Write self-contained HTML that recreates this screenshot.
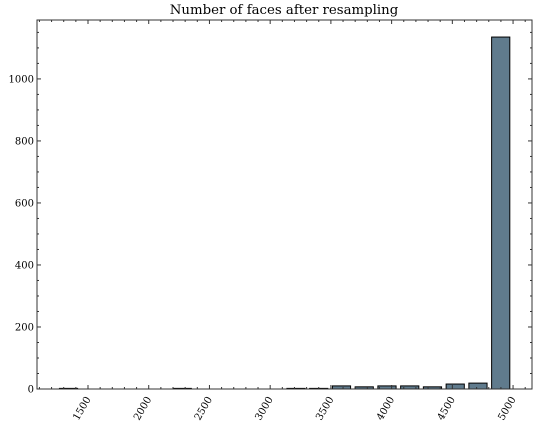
<!DOCTYPE html>
<html><head><meta charset="utf-8"><style>
body{margin:0;background:#fff}
svg{display:block;font-family:"DejaVu Serif","Liberation Serif",serif}
</style></head><body>
<svg id="chart" width="536" height="427">
<text x="284" y="14" text-anchor="middle" font-size="13.3">Number of faces after resampling</text>
<g id="bars"></g>
<g id="axes"></g>
<rect x="37" y="20" width="495" height="369" fill="none" stroke="#333" stroke-width="1"/>
</svg>
<script>
const binStart = 1246;
const binWidth = 187.3;
const counts = [2,0,0,0,0,2,0,0,0,0,2,2,10,7,10,10,7,16,19,1135];
const xTicks = [1500,2000,2500,3000,3500,4000,4500,5000];
const yTicks = [0,200,400,600,800,1000];
const L=37,R=532,T=20,B=389;
const xMin=1080,xMax=5156,yMax=1190;
const xs=v=>L+(v-xMin)/(xMax-xMin)*(R-L);
const ys=v=>B-v/yMax*(B-T);
const NS="http://www.w3.org/2000/svg";
function mk(t,a,p){const e=document.createElementNS(NS,t);for(const k in a)e.setAttribute(k,a[k]);p.appendChild(e);return e;}
const bars=document.getElementById('bars'),axes=document.getElementById('axes');
counts.forEach((c,i)=>{
  const x0=xs(binStart+i*binWidth+binWidth*0.1),x1=xs(binStart+(i+0.9)*binWidth);
  const r=mk('rect',{x:x0,y:ys(c),width:x1-x0,height:B-ys(c),fill:'#607b8d',stroke:'#000','stroke-width':1},bars);
  
  
});
for(let v=1100;v<=5150;v+=100){const x=xs(v);const major=v%500===0;const l=major?4:2;
  mk('line',{x1:x,x2:x,y1:B,y2:B-l,stroke:'#333'},axes);mk('line',{x1:x,x2:x,y1:T,y2:T+l,stroke:'#333'},axes);}
for(let v=0;v<=1150;v+=50){const y=ys(v);const l=v%200===0?4:2;
  mk('line',{x1:L,x2:L+l,y1:y,y2:y,stroke:'#333'},axes);mk('line',{x1:R,x2:R-l,y1:y,y2:y,stroke:'#333'},axes);}
xTicks.forEach(v=>{const x=xs(v);
  const t=mk('text',{x:x+3,y:B+10,'font-size':10,'text-anchor':'end',transform:`rotate(-60 ${x+3} ${B+10})`},axes);
  t.textContent=v;
  
  
});
yTicks.forEach(v=>{const y=ys(v);
  const t=mk('text',{x:L-3,y:y+3.5,'font-size':10,'text-anchor':'end'},axes);
  t.textContent=v;
  
  
});
</script>
</body></html>
